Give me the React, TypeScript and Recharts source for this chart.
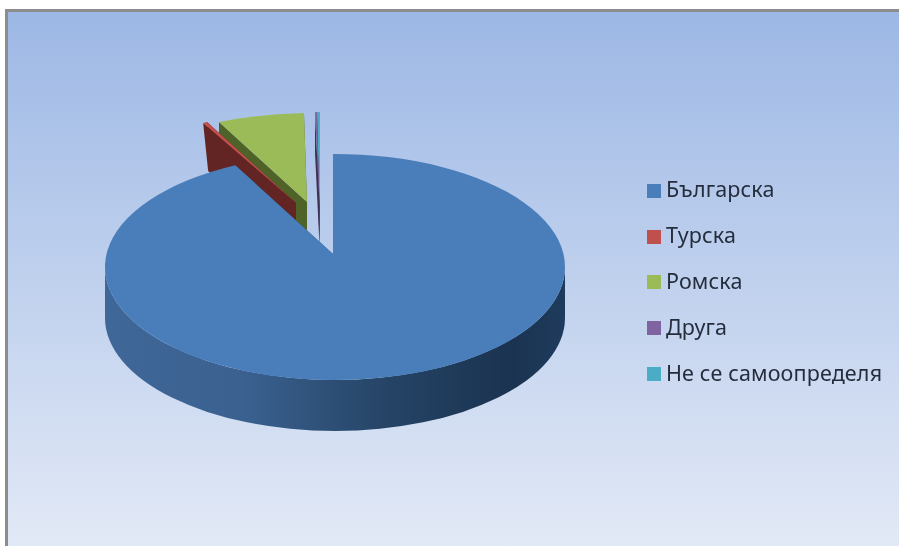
/**
 * Exploded 3D-look pie chart - ethnic self-identification
 */

import React from 'react';
import { PieChart, Pie, Cell, Legend } from 'recharts';

const categories = ['Българска', 'Турска', 'Ромска', 'Друга', 'Не се самоопределя'];
const shares = [93.0, 0.3, 6.2, 0.2, 0.3];
const faceColors = ['#4A7EBB', '#C0504D', '#9BBB59', '#8064A2', '#4BACC6'];
const wallColors = ['#2C4D75', '#632523', '#4F6228', '#3F3151', '#205867'];

// how far each slice is pulled out of the pie, relative to the pie centre
const sliceGeometry = [
  { dx: 0, dy: 0, sx: 1, sy: 1, apexX: -2, apexY: -13, depth: 51, wallIn: 0 },
  { dx: -34, dy: -54, sx: 0.981, sy: 0.885, apexX: -5, apexY: -10, depth: 48, wallIn: 5 },
  { dx: -22, dy: -54, sx: 0.981, sy: 0.885, apexX: -6, apexY: -11, depth: 48, wallIn: 0 },
  { dx: -13.6, dy: -60, sx: 0.696, sy: 0.84, apexX: -1.9, apexY: -2, depth: 40, wallIn: 0 },
  { dx: -13.6, dy: -60, sx: 0.696, sy: 0.84, apexX: -1.9, apexY: -2, depth: 40, wallIn: 0 }
];

const TILT = 113 / 230;
const rad = (deg: number) => (deg * Math.PI) / 180;

// slices are handed to the Pie in reverse, so the big one is painted last
const pieData = categories
  .map((name, i) => ({ name, value: shares[i], fill: faceColors[i] }))
  .reverse();

const SliceShape = (props: any) => {
  const { cx, cy, outerRadius, startAngle, endAngle, index, fill } = props;
  const sourceIndex = categories.length - 1 - index;
  const g = sliceGeometry[sourceIndex];
  const wall = wallColors[sourceIndex];
  const ox = cx + g.dx;
  const oy = cy + g.dy;
  const rx = outerRadius * g.sx;
  const ry = outerRadius * TILT * g.sy;
  const d = g.depth;
  const pt = (a: number) => [ox + rx * Math.cos(rad(a)), oy - ry * Math.sin(rad(a))];
  const [ax, ay] = [ox + g.apexX, oy + g.apexY];
  const [sX, sY] = pt(startAngle);
  const [eX, eY] = pt(endAngle);
  const large = endAngle - startAngle > 180 ? 1 : 0;

  const quad = (x: number, y: number) =>
    `M${x},${y} L${ax},${ay} L${ax},${ay + d} L${x + g.wallIn},${y + d} Z`;

  // outer rim wall, only the part facing the viewer
  const from = Math.max(startAngle, 180);
  const to = Math.min(endAngle, 360);
  let rim = null;
  if (to > from) {
    const [x1, y1] = pt(from);
    const [x2, y2] = pt(to);
    const rimPath = `M${x1},${y1} A${rx},${ry} 0 0 0 ${x2},${y2} L${x2},${y2 + d} A${rx},${ry} 0 0 1 ${x1},${y1 + d} Z`;
    rim = <path d={rimPath} fill="url(#rimShade)" />;
  }

  return (
    <g>
      <path d={quad(sX, sY)} fill={wall} />
      <path d={quad(eX, eY)} fill={wall} />
      {rim}
      <path
        d={`M${ax},${ay} L${sX},${sY} A${rx},${ry} 0 ${large} 0 ${eX},${eY} Z`}
        fill={fill}
      />
    </g>
  );
};

const renderLegend = ({ payload }: any) => {
  const items = [...(payload || [])].sort(
    (a: any, b: any) => categories.indexOf(a.value) - categories.indexOf(b.value)
  );
  return (
    <div style={{ fontFamily: '"Noto Sans", sans-serif', fontSize: 21.5, letterSpacing: 0.15, color: '#252D3D' }}>
      {items.map((item: any) => (
        <div key={item.value} style={{ display: 'flex', alignItems: 'center', height: 45.8, whiteSpace: 'nowrap' }}>
          <span style={{ width: 14, height: 14, background: item.color, marginRight: 5 }} />
          <span style={{ position: 'relative', top: -2 }}>{item.value}</span>
        </div>
      ))}
    </div>
  );
};

export default function App() {
  return (
    <div style={{ position: 'fixed', left: 0, top: 0, width: 899, height: 546, background: '#fff', overflow: 'hidden' }}>
      <div
        style={{
          position: 'absolute',
          left: 5,
          top: 9,
          right: -3,
          bottom: -3,
          boxSizing: 'border-box',
          border: '3px solid #8C8C8C',
          background: 'linear-gradient(180deg, #9DB8E5 0%, #E2E9F6 100%)'
        }}
      />
      <div style={{ position: 'absolute', left: 0, top: 0, filter: 'blur(0.5px)' }}>
        <PieChart width={899} height={546} margin={{ top: 0, right: 0, bottom: 0, left: 0 }}>
          <defs>
            <linearGradient id="rimShade" x1="0" y1="0" x2="1" y2="0">
              <stop offset="0%" stopColor="#3F6797" />
              <stop offset="30%" stopColor="#3A6190" />
              <stop offset="60%" stopColor="#264567" />
              <stop offset="88%" stopColor="#1A3350" />
              <stop offset="100%" stopColor="#1F3B5C" />
            </linearGradient>
          </defs>
          <Pie
            data={pieData}
            dataKey="value"
            nameKey="name"
            cx={335}
            cy={267}
            outerRadius={230}
            startAngle={90.5}
            endAngle={450.5}
            stroke="none"
            shape={SliceShape}
            isAnimationActive={false}
          >
            {pieData.map((entry) => (
              <Cell key={entry.name} fill={entry.fill} />
            ))}
          </Pie>
          <Legend
            content={renderLegend}
            layout="vertical"
            align="right"
            verticalAlign="top"
            wrapperStyle={{ left: 647, top: 168, width: 250 }}
          />
        </PieChart>
      </div>
    </div>
  );
}
